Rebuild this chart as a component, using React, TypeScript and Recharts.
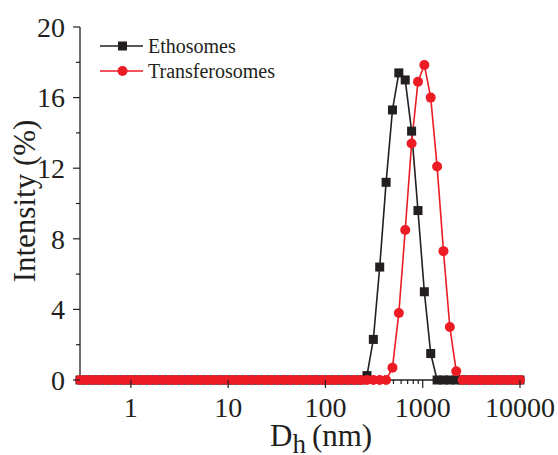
import { LineChart, Line, XAxis, YAxis } from "recharts";

// hydrodynamic diameter bins (nm)
const sizes = [
  0.3, 0.3488, 0.4058, 0.4719, 0.5487, 0.6381, 0.742, 0.8628, 1.0035, 1.1668,
  1.3569, 1.5779, 1.8349, 2.1337, 2.4812, 2.8853, 3.3552, 3.9017, 4.5394, 5.2791,
  6.139, 7.1389, 8.3016, 9.6537, 11.226, 13.055, 15.181, 17.654, 20.529, 23.873,
  27.761, 32.283, 37.541, 43.656, 50.767, 59.035, 68.651, 79.832, 92.835, 107.96,
  125.54, 146.0, 169.8, 197.6, 229.8, 267.2, 310.8, 361.4, 420.3, 488.7,
  568.3, 660.9, 768.6, 893.8, 1039.3, 1208.6, 1405.5, 1634.4, 1900.6, 2210.2,
  2570.2, 2988.8, 3475.6, 4041.7, 4700.0, 5465.6, 6355.8, 7391.0, 8594.8, 10000,
];

const ethosomes = [
  0, 0, 0, 0, 0, 0, 0, 0, 0, 0,
  0, 0, 0, 0, 0, 0, 0, 0, 0, 0,
  0, 0, 0, 0, 0, 0, 0, 0, 0, 0,
  0, 0, 0, 0, 0, 0, 0, 0, 0, 0,
  0, 0, 0, 0, 0, 0.25, 2.3, 6.4, 11.2, 15.3,
  17.4, 17.0, 14.1, 9.6, 5.0, 1.5, 0, 0, 0, 0,
  0, 0, 0, 0, 0, 0, 0, 0, 0, 0,
];

const transferosomes = [
  0, 0, 0, 0, 0, 0, 0, 0, 0, 0,
  0, 0, 0, 0, 0, 0, 0, 0, 0, 0,
  0, 0, 0, 0, 0, 0, 0, 0, 0, 0,
  0, 0, 0, 0, 0, 0, 0, 0, 0, 0,
  0, 0, 0, 0, 0, 0, 0, 0, 0, 0.7,
  3.8, 8.5, 13.4, 16.9, 17.85, 16.0, 12.1, 7.3, 3.0, 0.5,
  0, 0, 0, 0, 0, 0, 0, 0, 0, 0,
];

const majorX = [1, 10, 100, 1000, 10000];
// minor ticks elsewhere sit under the baseline markers, only these show
const xTicks = [1, 10, 100, 500, 600, 700, 800, 900, 1000, 10000];
const yTicks = [0, 2, 4, 6, 8, 10, 12, 14, 16, 18, 20];

const BLACK = "#231F20";
const RED = "#ED1C24";
const FONT = '"Liberation Serif", "Times New Roman", serif';

const data = sizes.map((d, i) => ({
  d,
  eth: ethosomes[i],
  trans: transferosomes[i],
}));

const XTick = (props: any) => {
  const { x, y, payload } = props;
  const major = majorX.includes(payload.value);
  return (
    <g>
      <line x1={x} x2={x} y1={y} y2={y + (major ? 8 : 4)} stroke={BLACK} strokeWidth={1.2} />
      {major && (
        <text x={x} y={y + 37} textAnchor="middle" fontSize={28} fontFamily={FONT} fill={BLACK}>
          {payload.value}
        </text>
      )}
    </g>
  );
};

const YTick = (props: any) => {
  const { x, y, payload } = props;
  const major = payload.value % 4 === 0;
  return (
    <g>
      <line x1={x} x2={x - (major ? 7 : 4)} y1={y} y2={y} stroke={BLACK} strokeWidth={1.2} />
      {major && (
        <text x={x - 15} y={y} dy="0.35em" textAnchor="end" fontSize={28} fontFamily={FONT} fill={BLACK}>
          {payload.value}
        </text>
      )}
    </g>
  );
};

const SquareDot = (props: any) => {
  const { cx, cy, index } = props;
  return <rect key={`sq-${index}`} x={cx - 4.5} y={cy - 4.5} width={9} height={9} fill={BLACK} />;
};

const CircleDot = (props: any) => {
  const { cx, cy, index } = props;
  return <circle key={`ci-${index}`} cx={cx} cy={cy} r={5} fill={RED} />;
};

function LegendOverlay() {
  const rows = [
    { name: "Ethosomes", color: BLACK, y: 46, square: true },
    { name: "Transferosomes", color: RED, y: 71, square: false },
  ];
  return (
    <svg width={558} height={455} style={{ position: "absolute", left: 0, top: 0, pointerEvents: "none" }}>
      {rows.map((r) => (
        <g key={r.name}>
          <line x1={100} x2={143} y1={r.y} y2={r.y} stroke={r.color} strokeWidth={1.6} />
          {r.square ? (
            <rect x={118} y={r.y - 4.5} width={9} height={9} fill={r.color} />
          ) : (
            <circle cx={122.5} cy={r.y} r={5} fill={r.color} />
          )}
          <text x={148} y={r.y + 7} fontSize={20} fontFamily={FONT} fill={BLACK}>
            {r.name}
          </text>
        </g>
      ))}
    </svg>
  );
}

export default function App() {
  return (
    <div style={{ position: "absolute", left: 0, top: 0, width: 558, height: 455, background: "#fff" }}>
      <LineChart width={558} height={455} data={data} margin={{ top: 27, right: 38, bottom: 0, left: 0 }}>
        <XAxis
          dataKey="d"
          type="number"
          scale="log"
          domain={[0.3, 10000]}
          ticks={xTicks}
          interval={0}
          height={75}
          tickSize={0}
          tickMargin={0}
          tickLine={false}
          tick={<XTick />}
          axisLine={{ stroke: BLACK, strokeWidth: 1.3 }}
          label={{
            content: () => (
              <text x={270} y={446} fontSize={31} fontFamily={FONT} fill={BLACK}>
                D
                <tspan fontSize={27} dy={7}>h</tspan>
                <tspan dy={-7} dx={6}>(nm)</tspan>
              </text>
            ),
          }}
        />
        <YAxis
          type="number"
          domain={[0, 20]}
          ticks={yTicks}
          interval={0}
          width={80}
          tickSize={0}
          tickMargin={0}
          tickLine={false}
          tick={<YTick />}
          axisLine={{ stroke: BLACK, strokeWidth: 1.3 }}
          label={{
            content: () => (
              <text
                transform="translate(35, 201) rotate(-90)"
                textAnchor="middle"
                fontSize={31}
                fontFamily={FONT}
                fill={BLACK}
              >
                Intensity (%)
              </text>
            ),
          }}
        />
        <Line
          type="linear"
          dataKey="eth"
          name="Ethosomes"
          stroke={BLACK}
          strokeWidth={1.6}
          dot={<SquareDot />}
          activeDot={false}
          isAnimationActive={false}
        />
        <Line
          type="linear"
          dataKey="trans"
          name="Transferosomes"
          stroke={RED}
          strokeWidth={1.6}
          dot={<CircleDot />}
          activeDot={false}
          isAnimationActive={false}
        />
      </LineChart>
      <LegendOverlay />
    </div>
  );
}
